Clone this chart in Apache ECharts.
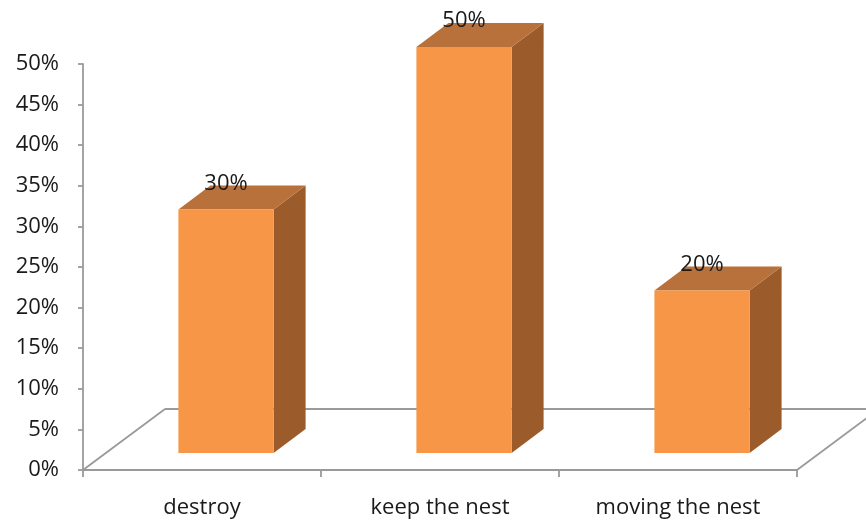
<!DOCTYPE html>
<html><head><meta charset="utf-8">
<script src="https://cdn.jsdelivr.net/npm/echarts@6/dist/echarts.min.js"></script>
<style>html,body{margin:0;padding:0;background:#fff}#c{width:866px;height:521px}</style>
</head><body><div id="c"></div>
<script>
const categories = ['destroy', 'keep the nest', 'moving the nest'];
const values = [30, 50, 20];
const yTicks = [0, 5, 10, 15, 20, 25, 30, 35, 40, 45, 50];

const FONT = 'Open Sans';
const FS = 22;
const FLOOR_DX = 82, FLOOR_DY = -61;
const BAR_DX = 24, BAR_DY = -17;
const SIDE_DX = 32, SIDE_DY = -24;
const LINE = '#9a9a9a';

const chart = echarts.init(document.getElementById('c'));
chart.setOption({
  animation: false,
  grid: { left: 83, right: 69, top: 64, bottom: 51 },
  xAxis: {
    type: 'category', data: categories,
    axisLine: { lineStyle: { color: LINE, width: 1.8 } },
    axisTick: { show: true, length: 7, lineStyle: { color: LINE, width: 1.8 } },
    axisLabel: { color: '#1a1a1a', fontFamily: FONT, fontSize: FS, margin: 27 }
  },
  yAxis: {
    type: 'value', min: yTicks[0], max: yTicks[yTicks.length - 1], interval: 5,
    axisLine: { show: true, lineStyle: { color: LINE, width: 1.8 } },
    axisTick: { show: true, length: 5, lineStyle: { color: LINE, width: 1.8 } },
    splitLine: { show: false },
    axisLabel: { color: '#1a1a1a', fontFamily: FONT, fontSize: FS, margin: 24, formatter: '{value}%' }
  },
  series: [
    {
      type: 'custom', clip: false, z: 1,
      data: [[0]],
      renderItem: function (params, api) {
        const n = categories.length;
        const bw = api.size([1, 0])[0];
        const p0 = api.coord([0, 0]);
        const x0 = p0[0] - bw / 2, x1 = p0[0] + bw * (n - 0.5), y = p0[1];
        const ls = { stroke: LINE, lineWidth: 1.8, fill: null };
        return { type: 'group', children: [
          { type: 'line', shape: { x1: x0, y1: y, x2: x0 + FLOOR_DX, y2: y + FLOOR_DY }, style: ls },
          { type: 'line', shape: { x1: x0 + FLOOR_DX, y1: y + FLOOR_DY, x2: x1 + FLOOR_DX, y2: y + FLOOR_DY }, style: ls },
          { type: 'line', shape: { x1: x1, y1: y, x2: x1 + FLOOR_DX, y2: y + FLOOR_DY }, style: ls }
        ]};
      }
    },
    {
      type: 'custom', clip: false, z: 2,
      data: values.map((v, i) => [i, v]),
      renderItem: function (params, api) {
        const i = api.value(0), v = api.value(1);
        const bw = api.size([1, 0])[0];
        const w = bw * 0.4;
        const base = api.coord([i, 0]);
        const top = api.coord([i, v]);
        const xl = base[0] - w / 2 + BAR_DX, xr = xl + w;
        const yb = base[1] + BAR_DY, yt = top[1] + BAR_DY;
        return { type: 'group', children: [
          { type: 'polygon', shape: { points: [[xr, yb], [xr + SIDE_DX, yb + SIDE_DY], [xr + SIDE_DX, yt + SIDE_DY], [xr, yt]] },
            style: { fill: '#9c5b2b' } },
          { type: 'polygon', shape: { points: [[xl, yt], [xr, yt], [xr + SIDE_DX, yt + SIDE_DY], [xl + SIDE_DX, yt + SIDE_DY]] },
            style: { fill: '#b8713b' } },
          { type: 'rect', shape: { x: xl, y: yt, width: w, height: yb - yt },
            style: { fill: '#f79646' } },
          { type: 'text', style: { text: v + '%', x: xl + w / 2, y: yt - 26, align: 'center', verticalAlign: 'middle',
            fill: '#1a1a1a', font: FS + 'px "' + FONT + '"' } }
        ]};
      }
    }
  ]
});
</script></body></html>
